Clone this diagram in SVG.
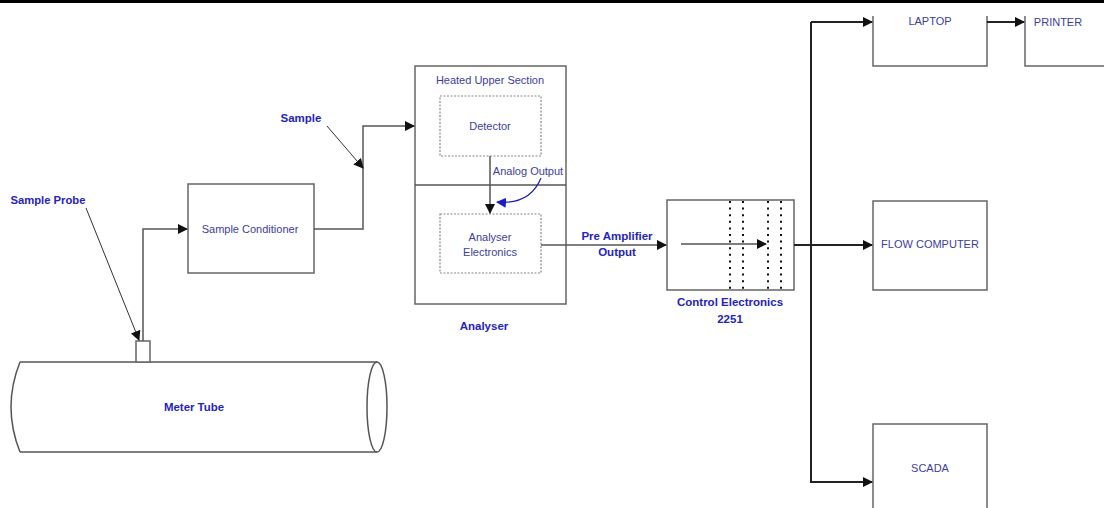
<svg xmlns="http://www.w3.org/2000/svg" width="1104" height="508" viewBox="0 0 1104 508">
<style>
.box{fill:#fff;stroke:#666;stroke-width:1.5}
.dbox{fill:none;stroke:#888;stroke-width:1.2;stroke-dasharray:2 1.5}
.ln{fill:none;stroke:#555;stroke-width:1.5}
.bk{fill:none;stroke:#222;stroke-width:2}
.t{font-family:"Liberation Sans",Arial,sans-serif;font-size:11px;fill:#3c3caa;text-anchor:middle}
.b{font-family:"Liberation Sans",Arial,sans-serif;font-size:11.5px;font-weight:bold;fill:#2222cc;text-anchor:middle}
.dot{stroke:#111;stroke-width:2;stroke-dasharray:2 4.6}
</style>
<defs>
<marker id="ah" viewBox="0 0 10 10" refX="9" refY="5" markerWidth="10" markerHeight="10" markerUnits="userSpaceOnUse" orient="auto">
<path d="M0,0 L10,5 L0,10 z" fill="#111"/>
</marker>
<marker id="ahb" viewBox="0 0 10 10" refX="9" refY="5" markerWidth="10" markerHeight="10" markerUnits="userSpaceOnUse" orient="auto">
<path d="M0,0 L10,5 L0,10 z" fill="#1a1acc"/>
</marker>
</defs>
<rect x="0" y="0" width="1104" height="3" fill="#000"/>

<g id="meter-tube">
<path d="M20,362 L377,362 M20,452 L377,452" class="ln"/>
<path d="M20,362 Q2,407 20,452" class="ln"/>
<ellipse cx="377" cy="407" rx="10" ry="45" class="ln"/>
<text x="194" y="411" class="b" textLength="60" lengthAdjust="spacingAndGlyphs">Meter Tube</text>
</g>
<g id="sample-probe">
<rect x="136" y="341" width="14" height="21" class="box"/>
<text x="48" y="204" class="b" textLength="75" lengthAdjust="spacingAndGlyphs">Sample Probe</text>
</g>
<g id="sample-conditioner">
<rect x="188" y="184" width="126" height="89" class="box"/>
<text x="250" y="233" class="t">Sample Conditioner</text>
</g>
<g id="analyser">
<rect x="415" y="66" width="151" height="238" class="box"/>
<line x1="415" y1="185" x2="566" y2="185" class="ln"/>
<text x="490" y="84" class="t">Heated Upper Section</text>
<text x="484" y="330" class="b">Analyser</text>
<text x="301" y="122" class="b">Sample</text>
</g>
<g id="detector">
<rect x="440" y="96" width="101" height="60" class="dbox"/>
<text x="490" y="130" class="t">Detector</text>
</g>
<g id="analyser-electronics">
<rect x="440" y="214" width="101" height="59" class="dbox"/>
<text x="490" y="241" class="t">Analyser</text>
<text x="490" y="256" class="t">Electronics</text>
</g>
<g id="control-electronics">
<rect x="667" y="200" width="127" height="90" class="box"/>
<line x1="730" y1="201" x2="730" y2="290" class="dot"/>
<line x1="743" y1="201" x2="743" y2="290" class="dot"/>
<line x1="768" y1="201" x2="768" y2="290" class="dot"/>
<line x1="781" y1="201" x2="781" y2="290" class="dot"/>
<text x="730" y="306" class="b">Control Electronics</text>
<text x="730" y="323" class="b">2251</text>
</g>
<g id="laptop">
<path d="M873,16 L873,66 L987,66 L987,16" class="box"/>
<text x="930" y="25" class="t">LAPTOP</text>
</g>
<g id="printer">
<path d="M1025,16 L1025,66 L1104,66" class="box"/>
<text x="1058" y="26" class="t" text-anchor="start">PRINTER</text>
</g>
<g id="flow-computer">
<rect x="873" y="201" width="114" height="89" class="box"/>
<text x="930" y="248" class="t">FLOW COMPUTER</text>
</g>
<g id="scada">
<path d="M873,510 L873,424 L987,424 L987,510" class="box"/>
<text x="930" y="472" class="t">SCADA</text>
</g>

<g id="connectors">
<path d="M143,341 L143,229 L187,229" class="ln" marker-end="url(#ah)"/>
<path d="M314,229 L363,229 L363,126 L414,126" class="ln" marker-end="url(#ah)"/>
<path d="M327,126 L363,168" stroke="#333" stroke-width="1" fill="none" marker-end="url(#ah)"/>
<path d="M86,208 L139,340" stroke="#333" stroke-width="1" fill="none" marker-end="url(#ah)"/>
<path d="M490,156 L490,213" class="ln" marker-end="url(#ah)"/>
<path d="M541,178 Q530,205 497,202" stroke="#1a1acc" stroke-width="1.2" fill="none" marker-end="url(#ahb)"/>
<text x="528" y="175" class="t">Analog Output</text>
<path d="M541,245 L666,245" class="ln" marker-end="url(#ah)"/>
<text x="617" y="240" class="b">Pre Amplifier</text>
<text x="617" y="256" class="b">Output</text>
<path d="M681,244 L766,244" class="ln" marker-end="url(#ah)"/>
<path d="M794,245 L872,245" class="bk" marker-end="url(#ah)"/>
<path d="M811,22 L872,22" class="bk" marker-end="url(#ah)"/>
<path d="M811,22 L811,482 L872,482" class="bk" marker-end="url(#ah)"/>
<path d="M987,22 L1024,22" class="bk" marker-end="url(#ah)"/>
</g>
</svg>
